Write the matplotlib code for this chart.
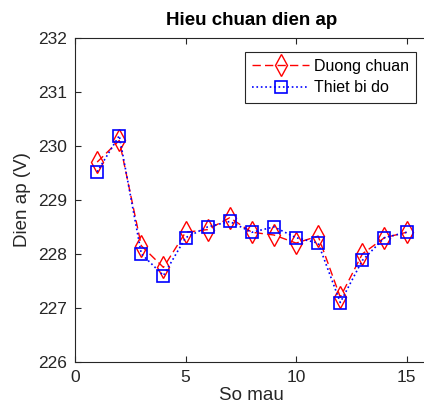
import matplotlib
matplotlib.use("Agg")
import matplotlib.pyplot as plt

mau = list(range(1, 16))
duong_chuan = [229.7, 230.1, 228.15, 227.75, 228.4, 228.45, 228.67, 228.4, 228.35, 228.2, 228.33, 227.2, 228.0, 228.3, 228.4]
thiet_bi_do = [229.52, 230.19, 228.0, 227.6, 228.3, 228.5, 228.6, 228.4, 228.5, 228.3, 228.2, 227.1, 227.88, 228.3, 228.4]

plt.rcParams['font.family'] = ['Liberation Sans', 'DejaVu Sans']

fig = plt.figure(figsize=(4.24, 4.16), dpi=100)
ax = fig.add_axes([0.177, 0.130, 0.834, 0.779])

ax.plot(mau, duong_chuan, 'r--d', markersize=11, markerfacecolor='none',
        linewidth=1, markeredgewidth=1, dashes=(6, 3), label='Duong chuan')
ax.plot(mau, thiet_bi_do, 'b:s', markersize=9, markerfacecolor='none',
        linewidth=1.2, markeredgewidth=1.2, label='Thiet bi do')

ax.set_xlim(0, 16)
ax.set_ylim(226, 232)
ax.set_xticks([0, 5, 10, 15])
ax.set_yticks(range(226, 233))
ax.tick_params(direction='in', top=True, right=False, labelsize=12.5,
               colors='#262626', length=4, pad=6)
for s in ax.spines.values():
    s.set_color('#262626')
    s.set_linewidth(0.8)
ax.spines['right'].set_visible(False)

ax.set_xlabel('So mau', fontsize=13.5, color='#262626', labelpad=1)
ax.set_ylabel('Dien ap (V)', fontsize=13.5, color='#262626', labelpad=5)
ax.set_title('Hieu chuan dien ap', fontsize=13.5, fontweight='bold', pad=9)

leg = ax.legend(loc='upper left', bbox_to_anchor=(0.48, 0.957), fontsize=11.5,
                fancybox=False, edgecolor='#262626', framealpha=1,
                handlelength=3.6, borderpad=0.45, labelspacing=0.4, handletextpad=0.3,
                borderaxespad=0)
leg.get_frame().set_linewidth(0.8)

fig.savefig('out.png', dpi=100)
